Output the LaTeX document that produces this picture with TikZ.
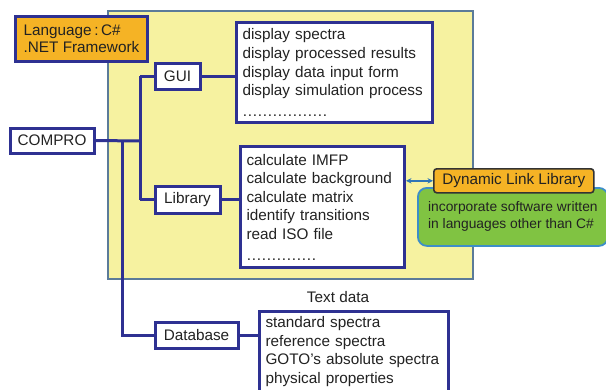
\documentclass[tikz,border=0pt]{standalone}
\usepackage{fontspec}
\setmainfont{Liberation Sans}
\usetikzlibrary{arrows.meta}
\definecolor{lineblue}{HTML}{2E3192}
\definecolor{yellowbg}{HTML}{F6F2A0}
\definecolor{framegray}{HTML}{5B7B99}
\definecolor{orangebg}{HTML}{F5B325}
\definecolor{greenbg}{HTML}{80C342}
\definecolor{greenframe}{HTML}{3D8EC9}
\definecolor{arrowblue}{HTML}{2E75B6}
\definecolor{txt}{HTML}{222222}
\newcommand\mydots[1]{\hbox to #1{\xleaders\hbox to 4.9pt{\hss.\hss}\hfill}}
\tikzset{
  box/.style={draw=lineblue, line width=3pt, fill=white, inner sep=0pt, text=txt},
  listbox/.style={box, anchor=north west, align=left, inner xsep=6pt, inner ysep=0pt},
  conn/.style={draw=lineblue, line width=3pt},
  mainfont/.style={font=\fontsize{15.3}{18.6}\selectfont}
}
\begin{document}
\begin{tikzpicture}[x=1pt,y=-1pt, mainfont]
\useasboundingbox (0,0) rectangle (606,389);
\fill[white] (0,0) rectangle (606,389);
\begin{scope}
\clip (0,0) rectangle (606,389);
% main yellow frame
\node[draw=framegray, line width=1.5pt, fill=yellowbg, anchor=north west, minimum width=365pt, minimum height=268pt, inner sep=0pt] (frame) at (107,10) {};

% language box
\node[draw=lineblue, line width=3pt, fill=orangebg, anchor=north west, minimum width=132pt, minimum height=45pt, align=left, inner xsep=7pt, text=txt, font=\fontsize{15.3}{17}\selectfont] (lang) at (14,15) {Language\,:\,C\#\\.NET Framework};

% single boxes
\node[box, minimum width=84pt, minimum height=25pt] (compro) at (52,140.5) {COMPRO};
\node[box, minimum width=45pt, minimum height=26pt] (gui) at (177.5,76) {GUI};
\node[box, minimum width=65pt, minimum height=27pt] (lib) at (187.5,199.5) {Library};
\node[box, minimum width=83pt, minimum height=26pt] (db) at (196.5,335) {Database};

% list boxes
\node[listbox, minimum width=196pt, minimum height=100pt, text width=184pt] (disp) at (235,21) {display spectra\\display processed results\\display data input form\\display simulation process\\[2pt]\mydots{85pt}};
\node[listbox, minimum width=164pt, minimum height=121pt, text width=152pt] (calc) at (239,145) {calculate IMFP\\calculate background\\calculate matrix\\identify transitions\\read ISO file\\[2pt]\mydots{70pt}};
\node[listbox, minimum width=189pt, inner ysep=5pt, text width=177pt] (std) at (258,310) {standard spectra\\reference spectra\\GOTO's absolute spectra\\physical properties};
\node[text=txt] (textdata) at (338,297) {Text data};

% green and DLL
\node[draw=greenframe, line width=1.8pt, fill=greenbg, rounded corners=9pt, anchor=north west, minimum width=190pt, minimum height=58pt, align=left, inner xsep=10pt, text=txt, font=\fontsize{13.8}{17}\selectfont] (green) at (417,187) {incorporate software written\\in languages other than C\#};
\node[draw=black!80, line width=1.6pt, fill=orangebg, rounded corners=3pt, anchor=north west, minimum width=160pt, minimum height=24pt, inner sep=0pt, text=txt] (dll) at (433,168) {Dynamic Link Library};

% connectors
\coordinate (j1) at (140,141);
\coordinate (j2) at (122,141);
\draw[conn] (compro.east) -- (j1);
\draw[conn] (j1 |- gui.west) -- (j1 |- lib.west);
\draw[conn] (j1 |- gui.west) -- (gui.west);
\draw[conn] (j1 |- lib.west) -- (lib.west);
\draw[conn] (j2) |- (db.west);
\draw[conn] (gui.east) -- (gui.east -| disp.west);
\draw[conn] (lib.east) -- (lib.east -| calc.west);
\draw[conn] (db.east) -- (db.east -| std.west);
\draw[arrowblue, line width=1.6pt, {Stealth[length=5.5pt,width=5.5pt]}-{Stealth[length=5.5pt,width=5.5pt]}] (calc.east |- dll.west) -- (dll.west);
\end{scope}
\end{tikzpicture}
\end{document}
